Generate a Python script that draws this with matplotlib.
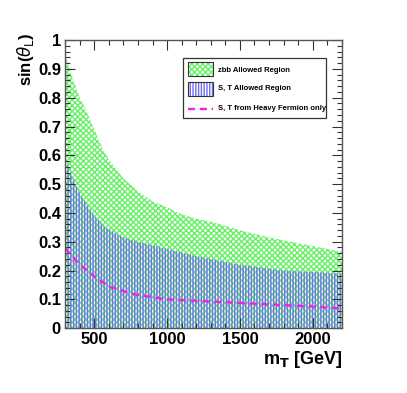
import matplotlib
matplotlib.use("Agg")
import matplotlib.pyplot as plt
import numpy as np
from matplotlib.patches import Rectangle
from matplotlib.lines import Line2D

plt.rcParams['font.family'] = ['Liberation Sans', 'DejaVu Sans']
plt.rcParams['hatch.linewidth'] = 1.0

# zbb allowed region (upper bound)
zbb_m = [300, 350, 400, 450, 500, 550, 600, 700, 800, 900, 1000, 1100, 1200, 1300, 1500, 1700, 1900, 2100, 2200]
zbb_up = [0.95, 0.87, 0.80, 0.75, 0.69, 0.63, 0.585, 0.52, 0.475, 0.44, 0.42, 0.395, 0.38, 0.37, 0.34, 0.315, 0.295, 0.275, 0.265]

# S,T allowed region (upper bound)
st_m = [300, 330, 370, 400, 460, 500, 575, 700, 800, 1000, 1200, 1500, 1800, 2200]
st_up = [0.60, 0.55, 0.50, 0.47, 0.42, 0.39, 0.35, 0.315, 0.30, 0.275, 0.25, 0.22, 0.20, 0.19]

# S,T from heavy fermion only
hf_m = [300, 400, 500, 600, 700, 800, 1000, 1200, 1400, 1600, 1800, 2000, 2200]
hf_y = [0.277, 0.22, 0.18, 0.145, 0.128, 0.115, 0.10, 0.095, 0.09, 0.085, 0.08, 0.075, 0.068]

fig = plt.figure(figsize=(4.07, 3.93), dpi=100)
ax = fig.add_axes([0.16, 0.165, 0.68, 0.733])

green = '#66f066'
blue = '#7070f0'
ax.fill_between(zbb_m, 0, zbb_up, facecolor='none', edgecolor=green, hatch='xxxxxx', linewidth=0)
ax.fill_between(st_m, 0, st_up, facecolor='none', edgecolor=blue, hatch='||||||', linewidth=0)
ax.plot(hf_m, hf_y, color='#ee22ee', lw=1.7, ls=(0, (3, 2)))

ax.set_xlim(300, 2200)
ax.set_ylim(0, 1)
ax.set_xticks([500, 1000, 1500, 2000])
ax.set_xticks(np.arange(300, 2201, 100), minor=True)
ax.set_yticks(np.arange(0, 1.01, 0.1))
ax.set_yticks(np.arange(0, 1.001, 0.02), minor=True)
ax.set_yticklabels(['0', '0.1', '0.2', '0.3', '0.4', '0.5', '0.6', '0.7', '0.8', '0.9', '1'])
ax.tick_params(which='both', direction='in', top=True, right=True, color='#333333', width=0.8)
ax.tick_params(which='major', length=7, labelsize=12, pad=3)
ax.tick_params(which='minor', length=3.5)
for lab in ax.get_xticklabels() + ax.get_yticklabels():
    lab.set_fontweight('bold')
for sp in ax.spines.values():
    sp.set_color('#555555')
    sp.set_linewidth(1.0)

ax.set_xlabel(r'm$_\mathbf{T}$ [GeV]', fontsize=13, fontweight='bold', loc='right', labelpad=1)
fig.text(15 / 407, 1 - 33 / 393, r'sin($\theta_\mathrm{L}$)', fontsize=12, fontweight='bold',
         rotation=90, ha='left', va='top')

# legend drawn manually (figure pixel based coords)
W, H = 407, 393
def fx(px):
    return px / W
def fy(py):
    return 1 - py / H
fig.patches.append(Rectangle((fx(183), fy(118)), fx(326) - fx(183), fy(58) - fy(118),
                             transform=fig.transFigure, facecolor='white', edgecolor='#333333', lw=0.9, zorder=5))
fig.patches.append(Rectangle((fx(188), fy(76)), fx(213) - fx(188), fy(62) - fy(76),
                             transform=fig.transFigure, facecolor='white', edgecolor=green, hatch='xxxxxx', lw=0, zorder=6))
fig.patches.append(Rectangle((fx(188), fy(76)), fx(213) - fx(188), fy(62) - fy(76),
                             transform=fig.transFigure, facecolor='none', edgecolor='#333333', lw=0.8, zorder=7))
fig.patches.append(Rectangle((fx(188), fy(96)), fx(213) - fx(188), fy(82) - fy(96),
                             transform=fig.transFigure, facecolor='white', edgecolor=blue, hatch='||||||', lw=0, zorder=6))
fig.patches.append(Rectangle((fx(188), fy(96)), fx(213) - fx(188), fy(82) - fy(96),
                             transform=fig.transFigure, facecolor='none', edgecolor='#333333', lw=0.8, zorder=7))
fig.lines.append(Line2D([fx(188), fx(213)], [fy(109), fy(109)], transform=fig.transFigure,
                        color='#ee22ee', lw=1.7, ls=(0, (3, 2)), zorder=7))
for ty, txt in [(70, 'zbb Allowed Region'), (89, 'S, T Allowed Region'), (109, 'S, T from Heavy Fermion only')]:
    fig.text(fx(218), fy(ty), txt, fontsize=5.5, fontweight='bold', va='center', ha='left', zorder=8)

fig.savefig('out.png', dpi=100)
